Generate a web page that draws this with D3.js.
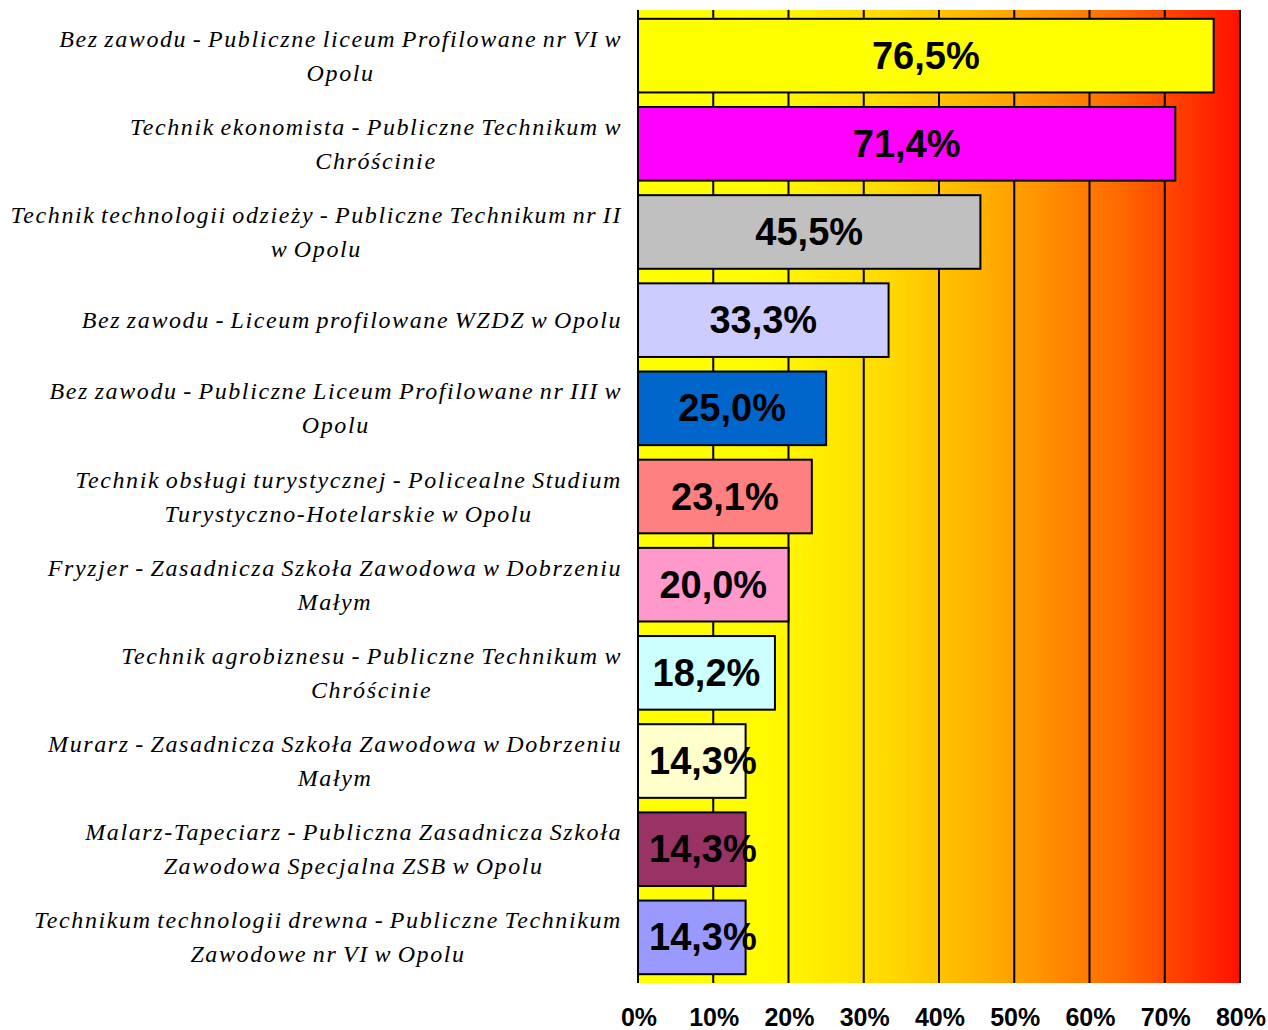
<!DOCTYPE html>
<html><head><meta charset="utf-8">
<script src="https://cdn.jsdelivr.net/npm/d3@7"></script>
<style>body{margin:0;background:#fff}svg{display:block}</style>
</head><body>
<svg id="chart" width="1268" height="1030"></svg>
<script>
const categories = [
  ["Bez zawodu - Publiczne liceum Profilowane nr VI w", "Opolu"],
  ["Technik ekonomista - Publiczne Technikum w", "Chróścinie"],
  ["Technik technologii odzieży - Publiczne Technikum nr II", "w Opolu"],
  ["Bez zawodu - Liceum profilowane WZDZ w Opolu"],
  ["Bez zawodu - Publiczne Liceum Profilowane nr III w", "Opolu"],
  ["Technik obsługi turystycznej - Policealne Studium", "Turystyczno-Hotelarskie w Opolu"],
  ["Fryzjer - Zasadnicza Szkoła Zawodowa w Dobrzeniu", "Małym"],
  ["Technik agrobiznesu - Publiczne Technikum w", "Chróścinie"],
  ["Murarz - Zasadnicza Szkoła Zawodowa w Dobrzeniu", "Małym"],
  ["Malarz-Tapeciarz - Publiczna Zasadnicza Szkoła", "Zawodowa Specjalna ZSB w Opolu"],
  ["Technikum technologii drewna - Publiczne Technikum", "Zawodowe nr VI w Opolu"]
];
const values = [76.5, 71.4, 45.5, 33.3, 25.0, 23.1, 20.0, 18.2, 14.3, 14.3, 14.3];
const valueLabels = ["76,5%", "71,4%", "45,5%", "33,3%", "25,0%", "23,1%", "20,0%", "18,2%", "14,3%", "14,3%", "14,3%"];
const barColors = ["#FFFF00", "#FF00FF", "#C0C0C0", "#CCCCFF", "#0066CC", "#FF8080", "#FF99CC", "#CCFFFF", "#FFFFCC", "#993366", "#9999FF"];
const tickValues = [0, 10, 20, 30, 40, 50, 60, 70, 80];
const tickLabels = ["0%", "10%", "20%", "30%", "40%", "50%", "60%", "70%", "80%"];

const svg = d3.select("#chart");
const L = 638, R = 1240, T = 10, B = 983;
const x = d3.scaleLinear().domain([0, 80]).range([L, R]);
const y = d3.scaleBand().domain(d3.range(categories.length)).range([T, B]).paddingInner(0.165).paddingOuter(0.1);

const defs = svg.append("defs");
const grad = defs.append("linearGradient").attr("id", "bg").attr("x1", "0%").attr("x2", "100%").attr("y1", "0%").attr("y2", "0%");
[[0, "#FFFF00"], [0.22, "#FFFA00"], [0.42, "#FFD800"], [0.6, "#FFA800"], [0.8, "#FF6A00"], [1, "#FF1000"]]
  .forEach(([o, c]) => grad.append("stop").attr("offset", o).attr("stop-color", c));

svg.append("rect").attr("x", L).attr("y", T).attr("width", R - L).attr("height", B - T).attr("fill", "url(#bg)");

svg.append("g").selectAll("line").data(tickValues).join("line")
  .attr("x1", d => x(d)).attr("x2", d => x(d)).attr("y1", T).attr("y2", B)
  .attr("stroke", "#000").attr("stroke-width", 2);

svg.append("g").selectAll("rect").data(values).join("rect")
  .attr("x", x(0)).attr("y", (d, i) => y(i)).attr("width", d => x(d) - x(0)).attr("height", y.bandwidth())
  .attr("fill", (d, i) => barColors[i]).attr("stroke", "#000").attr("stroke-width", 2);

// value labels
const vl = svg.append("g").selectAll("text").data(values).join("text")
  .style("font-family", "'Liberation Sans', Arial, sans-serif").attr("font-weight", "bold").attr("font-size", 38)
  .attr("text-anchor", "middle").attr("fill", "#000")
  .attr("y", (d, i) => y(i) + y.bandwidth() / 2 + 13)
  .text((d, i) => valueLabels[i]);
vl.each(function(d) {
  const w = this.getComputedTextLength();
  const cx = Math.max((x(0) + x(d)) / 2, x(0) + 11 + w / 2);
  d3.select(this).attr("x", cx);
});

// category labels
const lineH = 34;
const cg = svg.append("g");
categories.forEach((lines, i) => {
  const cy = y(i) + y.bandwidth() / 2;
  const t = cg.append("text").style("font-family", "'Liberation Serif', 'Times New Roman', serif")
    .attr("font-style", "italic").attr("font-size", 24).attr("letter-spacing", 1.6).attr("word-spacing", -2)
    .attr("fill", "#000").attr("text-anchor", "middle");
  const n = lines.length;
  const ts = lines.map((s, k) => t.append("tspan").attr("y", cy + (k - (n - 1) / 2) * lineH + 8).text(s));
  const maxW = d3.max(ts, s => s.node().getComputedTextLength());
  const cx = 622 - maxW / 2;
  ts.forEach(s => s.attr("x", cx));
});

// x axis tick labels
svg.append("g").selectAll("text").data(tickValues).join("text")
  .attr("x", d => x(d) + 1).attr("y", 1026)
  .style("font-family", "'Liberation Sans', Arial, sans-serif").attr("font-weight", "bold").attr("font-size", 25)
  .attr("text-anchor", "middle").attr("fill", "#000")
  .text((d, i) => tickLabels[i]);
</script>
</body></html>
